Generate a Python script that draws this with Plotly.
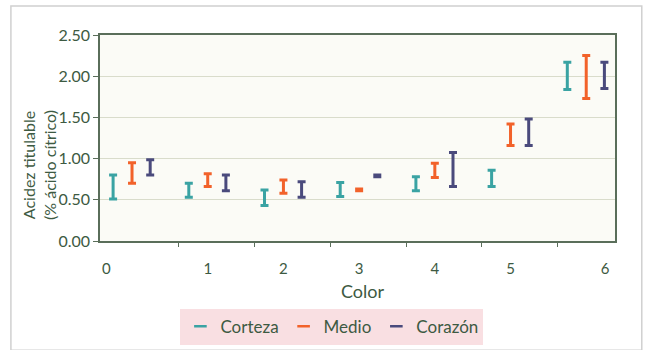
import plotly.graph_objects as go

categories = [0, 1, 2, 3, 4, 5, 6]
tick_labels = ["0", "1", "2", "3", "4", "5", "6"]
series_names = ["Corteza", "Medio", "Corazón"]

corteza_min = [0.51, 0.53, 0.43, 0.54, 0.61, 0.66, 1.84]
corteza_max = [0.80, 0.70, 0.62, 0.71, 0.78, 0.86, 2.17]
medio_min = [0.70, 0.66, 0.58, 0.61, 0.77, 1.16, 1.73]
medio_max = [0.95, 0.815, 0.74, 0.63, 0.945, 1.42, 2.25]
corazon_min = [0.80, 0.61, 0.53, 0.78, 0.66, 1.16, 1.85]
corazon_max = [0.985, 0.80, 0.72, 0.80, 1.075, 1.48, 2.17]

colors = ["#3aa3a3", "#f2622a", "#4a4a7c"]
offsets = [-0.25, 0.0, 0.24]
text_col = "#3d5a42"
FONT = "Lato"

fig = go.Figure()
for name, lo, hi, col, off in zip(series_names,
                                  [corteza_min, medio_min, corazon_min],
                                  [corteza_max, medio_max, corazon_max],
                                  colors, offsets):
    mid = [(a + b) / 2 for a, b in zip(lo, hi)]
    fig.add_trace(go.Scatter(
        x=[c + off for c in categories], y=mid, mode="markers",
        marker=dict(size=0.1, color=col, opacity=0),
        error_y=dict(type="data", symmetric=False,
                     array=[h - m for h, m in zip(hi, mid)],
                     arrayminus=[m - l for m, l in zip(mid, lo)],
                     color=col, thickness=3, width=4),
        showlegend=False, hoverinfo="skip"))
    # legend proxy
    fig.add_trace(go.Scatter(
        x=[None], y=[None], mode="markers", name=name, xaxis="x2",
        marker=dict(symbol="line-ew", size=9, line=dict(color=col, width=2.5))))

label_pos = [-0.34, 1, 2, 3, 4, 5, 6.25]
tick_pos = [0.62, 1.62, 2.62, 3.62, 4.62, 5.62]
xr = [-0.423, 6.38]

fig.update_layout(
    width=647, height=350,
    margin=dict(l=100, r=32, t=35, b=109),
    paper_bgcolor="white", plot_bgcolor="#fbfbf6",
    font=dict(family=FONT, color=text_col, size=15),
    xaxis=dict(range=xr, tickvals=label_pos, ticktext=tick_labels, ticks="",
               ticklabelstandoff=13, showgrid=False, zeroline=False,
               showline=True, linecolor="#5a6e5a", linewidth=1.5, mirror=True,
               tickfont=dict(size=15)),
    xaxis2=dict(range=xr, overlaying="x", anchor="y", side="bottom",
                tickvals=tick_pos, ticks="outside", ticklen=5, tickcolor="#5a6e5a",
                showticklabels=False, showgrid=False, zeroline=False, showline=False),
    yaxis=dict(range=[0, 2.5], tickvals=[0, 0.5, 1, 1.5, 2, 2.5],
               ticktext=["0.00", "0.50", "1.00", "1.50", "2.00", "2.50"],
               ticks="outside", ticklen=5, tickcolor="#5a6e5a",
               showgrid=True, gridcolor="#d9dccb", gridwidth=1, zeroline=False,
               showline=True, linecolor="#5a6e5a", linewidth=1.5, mirror=True,
               tickfont=dict(size=16)),
    legend=dict(orientation="h", xref="container", yref="container",
                x=0.513, xanchor="center", y=0.118, yanchor="top",
                bgcolor="#f9dfe2", font=dict(size=17, color=text_col),
                itemwidth=30, tracegroupgap=0),
    annotations=[
        dict(text="Color", xref="paper", yref="paper", x=0.511, y=-0.243,
             xanchor="center", yanchor="middle",
             showarrow=False, font=dict(size=18, color=text_col)),
        dict(text="Acidez titulable<br>(% ácido cítrico)", xref="paper", yref="paper",
             x=-0.118, y=0.37, xanchor="center", yanchor="middle",
             textangle=-90, showarrow=False,
             font=dict(size=16, color=text_col)),
    ],
    shapes=[dict(type="rect", xref="paper", yref="paper",
                 x0=-0.173, x1=1.052, y0=-0.53, y1=1.141,
                 line=dict(color="#d0d0d0", width=1.5), layer="below")],
)

fig.write_html("out.html")
